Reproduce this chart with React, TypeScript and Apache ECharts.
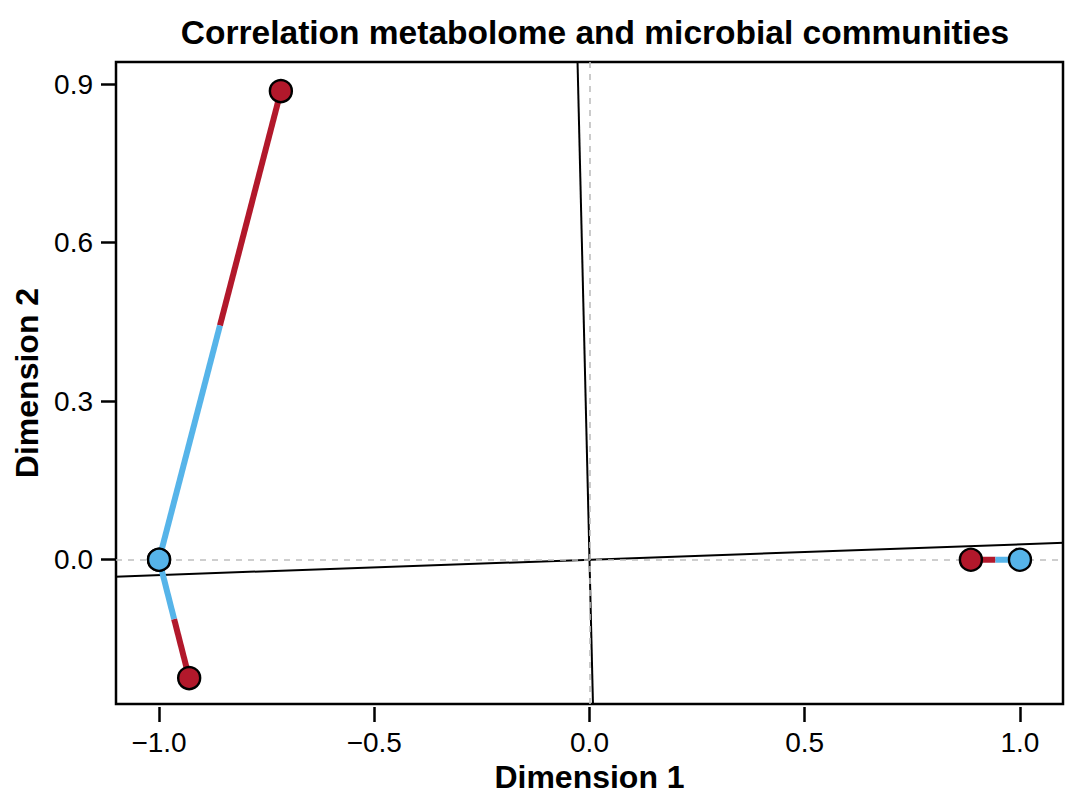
import React, { useEffect, useRef } from "react";
import * as echarts from "echarts";

// Procrustes: target configuration (blue) and rotated configuration (red)
const targetPoints: [number, number][] = [
  [-1.0, 0.0],
  [-1.0, 0.0],
  [1.0, 0.0],
];
const rotatedPoints: [number, number][] = [
  [-0.717, 0.887],
  [-0.93, -0.224],
  [0.886, 0.0],
];
// Rotation axes through the origin (end points in data units)
const rotAxisH: [number, number][] = [
  [-1.2, -0.0348],
  [1.2, 0.0348],
];
const rotAxisV: [number, number][] = [
  [0.0295, -1.0],
  [-0.0295, 1.0],
];
const xTicks = [-1.0, -0.5, 0.0, 0.5, 1.0];
const yTicks = [0.0, 0.3, 0.6, 0.9];

const RED = "#B2182B";
const BLUE = "#56B4E9";
const FONT = "'Liberation Sans', Arial, Helvetica, sans-serif";

const fmt = (v: number) => v.toFixed(1).replace("-", "\u2212");

export default function App() {
  const ref = useRef<HTMLDivElement>(null);
  useEffect(() => {
    if (!ref.current) return;
    const chart = echarts.init(ref.current, undefined, { renderer: "svg" });

    const segSeries: any[] = [];
    rotatedPoints.forEach((r, i) => {
      const t = targetPoints[i];
      const mid: [number, number] = [(r[0] + t[0]) / 2, (r[1] + t[1]) / 2];
      segSeries.push({
        type: "line",
        data: [r, mid],
        symbol: "none",
        lineStyle: { color: RED, width: 6 },
        z: 5,
        silent: true,
      });
      segSeries.push({
        type: "line",
        data: [mid, t],
        symbol: "none",
        lineStyle: { color: BLUE, width: 6 },
        z: 5,
        silent: true,
      });
    });

    chart.setOption({
      animation: false,
      title: {
        text: "Correlation metabolome and microbial communities",
        left: 590,
        textAlign: "center",
        top: 10,
        textStyle: { fontFamily: FONT, fontSize: 33.5, fontWeight: "bold", color: "#000" },
      },
      grid: {
        left: 116,
        right: 17,
        top: 62,
        bottom: 106,
        outerBoundsMode: "none",
        containLabel: false,
        show: true,
        borderColor: "#000",
        borderWidth: 2.5,
        backgroundColor: "transparent",
      },
      xAxis: {
        type: "value",
        min: -1.1,
        max: 1.1,
        offset: 3,
        name: "Dimension 1",
        nameLocation: "middle",
        nameGap: 53,
        nameTextStyle: { fontFamily: FONT, fontSize: 32, fontWeight: "bold", color: "#000" },
        axisLine: { show: false, onZero: false },
        axisTick: {
          show: true,
          length: 15,
          customValues: xTicks,
          lineStyle: { color: "#000", width: 2.5 },
        },
        axisLabel: {
          customValues: xTicks,
          formatter: fmt,
          margin: 21,
          fontFamily: FONT,
          fontSize: 28,
          color: "#000",
        },
        splitLine: { show: false },
      },
      yAxis: {
        type: "value",
        min: -0.273,
        max: 0.942,
        name: "Dimension 2",
        nameLocation: "middle",
        nameGap: 65,
        nameTextStyle: { fontFamily: FONT, fontSize: 32, fontWeight: "bold", color: "#000" },
        axisLine: { show: false, onZero: false },
        axisTick: {
          show: true,
          length: 15,
          customValues: yTicks,
          lineStyle: { color: "#000", width: 2.5 },
        },
        axisLabel: {
          customValues: yTicks,
          formatter: fmt,
          margin: 23,
          fontFamily: FONT,
          fontSize: 28,
          color: "#000",
        },
        splitLine: { show: false },
      },
      series: [
        {
          type: "line",
          data: [],
          silent: true,
          z: 1,
          markLine: {
            silent: true,
            symbol: "none",
            label: { show: false },
            lineStyle: { color: "#BEBEBE", width: 1.6, type: [6, 6] },
            data: [{ xAxis: 0 }, { yAxis: 0 }],
          },
        },
        {
          type: "line",
          data: rotAxisH,
          symbol: "none",
          silent: true,
          lineStyle: { color: "#000", width: 2 },
          z: 2,
        },
        {
          type: "line",
          data: rotAxisV,
          symbol: "none",
          silent: true,
          lineStyle: { color: "#000", width: 2 },
          z: 2,
        },
        ...segSeries,
        {
          type: "scatter",
          data: rotatedPoints,
          symbolSize: 22,
          itemStyle: { color: RED, borderColor: "#000", borderWidth: 2.4, opacity: 1 },
          z: 10,
        },
        {
          type: "scatter",
          data: targetPoints,
          symbolSize: 22,
          itemStyle: { color: BLUE, borderColor: "#000", borderWidth: 2.4, opacity: 1 },
          z: 10,
        },
      ],
    });
    return () => chart.dispose();
  }, []);
  return (
    <div
      ref={ref}
      style={{ position: "fixed", left: 0, top: 0, width: 1080, height: 810, background: "#fff" }}
    />
  );
}
